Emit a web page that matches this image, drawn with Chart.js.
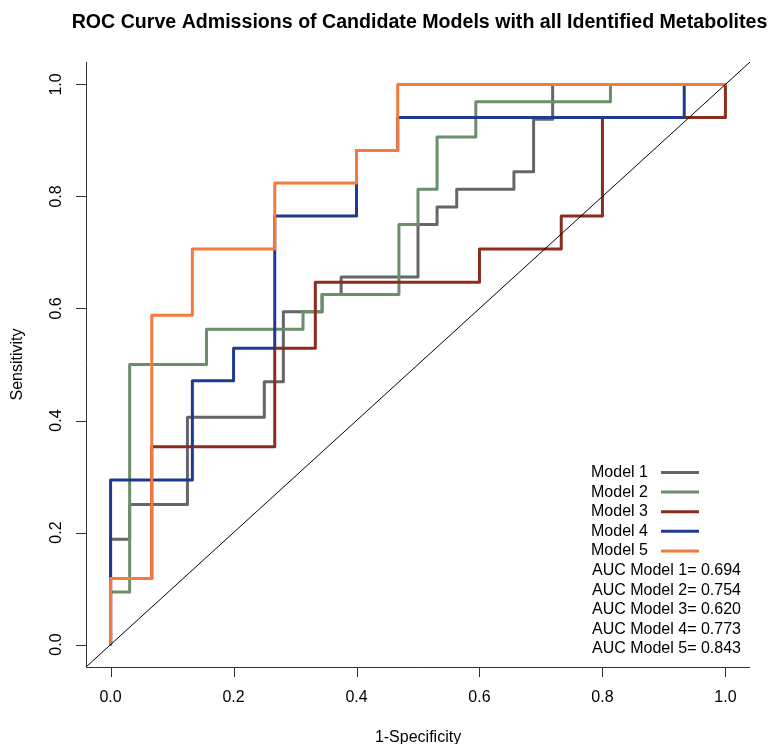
<!DOCTYPE html>
<html>
<head>
<meta charset="utf-8">
<script src="https://cdn.jsdelivr.net/npm/chart.js@4"></script>
<style>
  html, body { margin: 0; padding: 0; background: #fff; }
  #wrap { width: 769px; height: 744px; }
</style>
</head>
<body>
<div id="wrap"><canvas id="roc" width="769" height="744"></canvas></div>
<script>
// ROC points (1-specificity, sensitivity)
const fpr1 = [0, 0, 0.031, 0.031, 0.125, 0.125, 0.25, 0.25, 0.281, 0.281, 0.344, 0.344, 0.375, 0.375, 0.5, 0.5, 0.531, 0.531, 0.563, 0.563, 0.656, 0.656, 0.688, 0.688, 0.719, 0.719, 1];
const tpr1 = [0, 0.188, 0.188, 0.25, 0.25, 0.406, 0.406, 0.469, 0.469, 0.594, 0.594, 0.625, 0.625, 0.656, 0.656, 0.75, 0.75, 0.781, 0.781, 0.813, 0.813, 0.844, 0.844, 0.938, 0.938, 1, 1];

const fpr2 = [0, 0, 0.031, 0.031, 0.156, 0.156, 0.313, 0.313, 0.344, 0.344, 0.469, 0.469, 0.5, 0.5, 0.531, 0.531, 0.594, 0.594, 0.813, 0.813, 1];
const tpr2 = [0, 0.094, 0.094, 0.5, 0.5, 0.563, 0.563, 0.594, 0.594, 0.625, 0.625, 0.75, 0.75, 0.813, 0.813, 0.906, 0.906, 0.969, 0.969, 1, 1];

const fpr3 = [0, 0, 0.067, 0.067, 0.267, 0.267, 0.333, 0.333, 0.6, 0.6, 0.733, 0.733, 0.8, 0.8, 1, 1];
const tpr3 = [0, 0.118, 0.118, 0.353, 0.353, 0.529, 0.529, 0.647, 0.647, 0.706, 0.706, 0.765, 0.765, 0.941, 0.941, 1];

const fpr4 = [0, 0, 0.133, 0.133, 0.2, 0.2, 0.267, 0.267, 0.4, 0.4, 0.467, 0.467, 0.933, 0.933, 1];
const tpr4 = [0, 0.294, 0.294, 0.471, 0.471, 0.529, 0.529, 0.765, 0.765, 0.882, 0.882, 0.941, 0.941, 1, 1];

const fpr5 = [0, 0, 0.067, 0.067, 0.133, 0.133, 0.267, 0.267, 0.4, 0.4, 0.467, 0.467, 1];
const tpr5 = [0, 0.118, 0.118, 0.588, 0.588, 0.706, 0.706, 0.824, 0.824, 0.882, 0.882, 1, 1];

const modelNames = ['Model 1', 'Model 2', 'Model 3', 'Model 4', 'Model 5'];
const aucValues = ['0.694', '0.754', '0.620', '0.773', '0.843'];
const modelColors = ['#666666', '#6A8F6A', '#8B2C1C', '#1F3A8F', '#F57A3D'];

const axisTicks = [0, 0.2, 0.4, 0.6, 0.8, 1.0];
const diagX = [-0.04, 1.04];
const diagY = [-0.04, 1.04];

const FONT = '"Liberation Sans", Arial, Helvetica, sans-serif';

function toPoints(xs, ys) {
    return xs.map((x, i) => ({ x: x, y: ys[i] }));
}

const curves = [[fpr1, tpr1], [fpr2, tpr2], [fpr3, tpr3], [fpr4, tpr4], [fpr5, tpr5]];

const datasets = curves.map((c, i) => ({
    label: modelNames[i],
    data: toPoints(c[0], c[1]),
    borderColor: modelColors[i],
    borderWidth: 3,
    borderCapStyle: 'round',
    borderJoinStyle: 'round',
    pointRadius: 0,
    tension: 0,
    fill: false,
    order: 5 - i
}));

// reference line drawn on top
datasets.push({
    label: 'diag',
    data: toPoints(diagX, diagY),
    borderColor: '#000000',
    borderWidth: 1,
    pointRadius: 0,
    tension: 0,
    fill: false,
    order: 0
});

// R-style axes, title and legend
const rPlot = {
    id: 'rPlot',
    beforeDatasetsDraw(chart) {
        const ctx = chart.ctx;
        const xs = chart.scales.x, ys = chart.scales.y;
        const a = chart.chartArea;
        ctx.save();
        ctx.strokeStyle = '#333333';
        ctx.lineWidth = 1;
        ctx.beginPath();
        ctx.moveTo(a.left + 0.5, a.top);
        ctx.lineTo(a.left + 0.5, a.bottom + 0.5);
        ctx.lineTo(a.right, a.bottom + 0.5);
        axisTicks.forEach(t => {
            const px = Math.round(xs.getPixelForValue(t)) + 0.5;
            ctx.moveTo(px, a.bottom);
            ctx.lineTo(px, a.bottom + 10);
            const py = Math.round(ys.getPixelForValue(t)) + 0.5;
            ctx.moveTo(a.left, py);
            ctx.lineTo(a.left - 10, py);
        });
        ctx.stroke();

        ctx.fillStyle = '#000';
        ctx.font = '16px ' + FONT;
        ctx.textAlign = 'center';
        ctx.textBaseline = 'middle';
        axisTicks.forEach(t => {
            ctx.fillText(t.toFixed(1), xs.getPixelForValue(t), 698);
            ctx.save();
            ctx.translate(57, ys.getPixelForValue(t));
            ctx.rotate(-Math.PI / 2);
            ctx.fillText(t.toFixed(1), 0, 0);
            ctx.restore();
        });

        const cx = (a.left + a.right) / 2;
        const cy = (a.top + a.bottom) / 2;
        ctx.fillText('1-Specificity', cx, 738);
        ctx.save();
        ctx.translate(18, cy);
        ctx.rotate(-Math.PI / 2);
        ctx.fillText('Sensitivity', 0, 0);
        ctx.restore();

        ctx.font = 'bold 19.6px ' + FONT;
        ctx.fillText('ROC Curve Admissions of Candidate Models with all Identified Metabolites', cx + 1.5, 23);
        ctx.restore();
    },
    afterDatasetsDraw(chart) {
        const ctx = chart.ctx;
        ctx.save();
        ctx.font = '16px ' + FONT;
        ctx.textAlign = 'left';
        ctx.textBaseline = 'middle';
        ctx.fillStyle = '#000';
        const rowH = 19.6;
        const y0 = 472.5;
        modelNames.forEach((name, i) => {
            const y = y0 + i * rowH;
            ctx.fillText(name, 591, y);
            ctx.strokeStyle = modelColors[i];
            ctx.lineWidth = 3;
            ctx.beginPath();
            ctx.moveTo(661, y);
            ctx.lineTo(699, y);
            ctx.stroke();
        });
        aucValues.forEach((v, i) => {
            const y = y0 + (i + 5) * rowH;
            ctx.fillText('AUC Model ' + (i + 1) + '= ' + v, 592, y);
        });
        ctx.restore();
    }
};

new Chart(document.getElementById('roc').getContext('2d'), {
    type: 'line',
    data: { datasets: datasets },
    options: {
        responsive: false,
        animation: false,
        devicePixelRatio: 1,
        layout: { padding: { left: 86, right: 19, top: 62, bottom: 77 } },
        plugins: { legend: { display: false }, tooltip: { enabled: false }, title: { display: false } },
        scales: {
            x: { type: 'linear', min: -0.04, max: 1.04, display: false },
            y: { type: 'linear', min: -0.04, max: 1.04, display: false }
        }
    },
    plugins: [rPlot]
});
</script>
</body>
</html>
